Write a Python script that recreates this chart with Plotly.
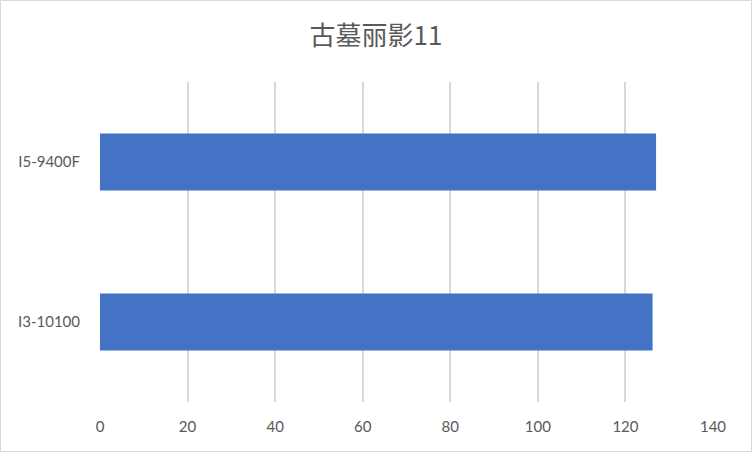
import plotly.graph_objects as go

# data
cpus = ["I3-10100", "I5-9400F"]
fps = [126.2, 127.0]
x_ticks = [0, 20, 40, 60, 80, 100, 120, 140]

W, H = 752, 452
L, R, T, B = 100, 39, 82, 50
pw, ph = W - L - R, H - T - B

fig = go.Figure(go.Bar(
    x=fps, y=cpus, orientation="h",
    marker=dict(color="#4472c4", line=dict(width=0)),
    width=0.355,
    hoverinfo="skip",
))

fig.update_layout(
    width=W, height=H,
    margin=dict(l=L, r=R, t=T, b=B),
    paper_bgcolor="white", plot_bgcolor="white",
    showlegend=False,
    title=dict(text="古墓丽影11", x=0.5, xref="container", xanchor="center",
               y=1 - 36 / H, yanchor="middle",
               font=dict(family="Noto Sans CJK SC", size=26, color="#595959")),
    font=dict(family="Lato, Noto Sans CJK SC", size=15, color="#595959"),
)

fig.update_xaxes(range=[0, 140], tickvals=x_ticks, showgrid=True,
                 gridcolor="#d9d9d9", gridwidth=1.5, zeroline=False,
                 showline=False, ticks="outside", ticklen=11, tickcolor="white",
                 fixedrange=True)
fig.update_yaxes(showgrid=False, zeroline=False, showline=False,
                 ticks="outside", ticklen=16, tickcolor="white",
                 categoryorder="array", categoryarray=cpus, fixedrange=True)

# chart border
fig.add_shape(type="rect", xref="paper", yref="paper",
              x0=(0.5 - L) / pw, x1=(W - 0.5 - L) / pw,
              y0=(H - B - (H - 0.5)) / ph, y1=(H - B - 0.5) / ph,
              line=dict(color="#d9d9d9", width=1), fillcolor="rgba(0,0,0,0)")

fig.write_html("out.html", config={"displayModeBar": False},
               post_script="document.body.style.margin='0';")
